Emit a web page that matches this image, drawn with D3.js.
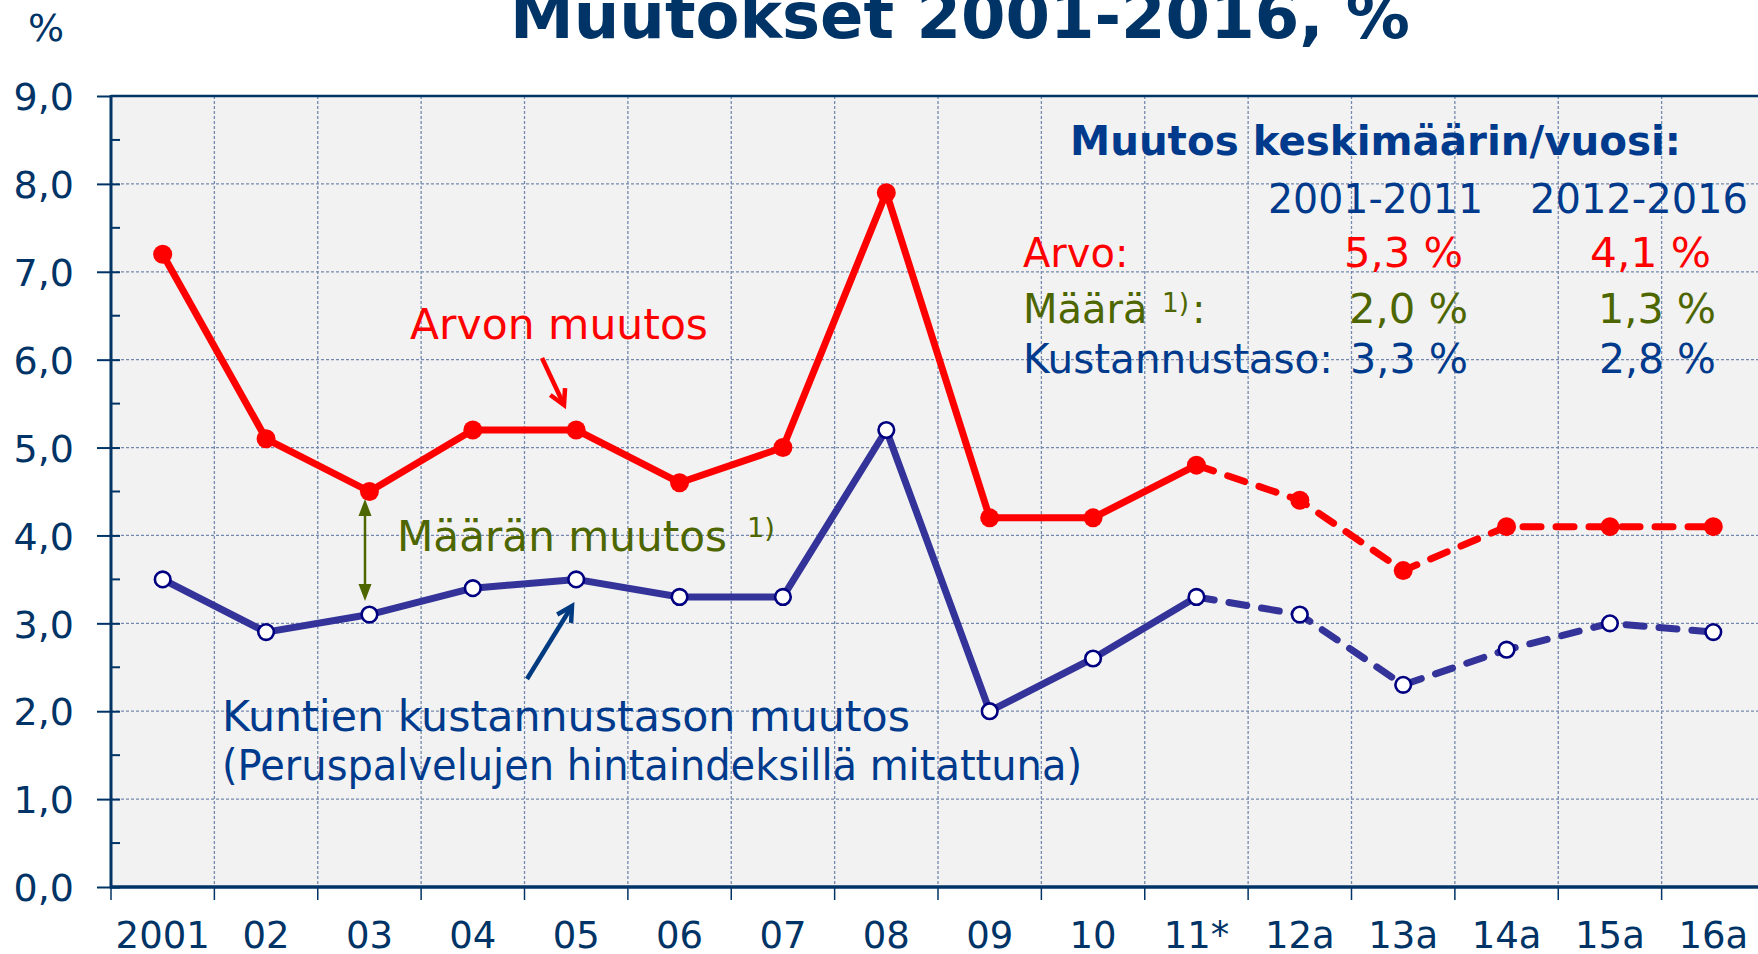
<!DOCTYPE html>
<html><head><meta charset="utf-8">
<script src="https://cdn.jsdelivr.net/npm/d3@7"></script>
<style>body{margin:0;background:#fff}svg{display:block}text{font-family:"DejaVu Sans",Verdana,sans-serif}</style>
</head><body>
<svg id="c" width="1758" height="954"></svg>
<script>
// ---- data ----
const categories = ["2001","02","03","04","05","06","07","08","09","10","11*","12a","13a","14a","15a","16a"];
const arvoValues = [7.2,5.1,4.5,5.2,5.2,4.6,5.0,7.9,4.2,4.2,4.8,4.4,3.6,4.1,4.1,4.1];
const kustannusValues = [3.5,2.9,3.1,3.4,3.5,3.3,3.3,5.2,2.0,2.6,3.3,3.1,2.3,2.7,3.0,2.9];
const solidUntil = "11*"; // actual data up to 2011, estimates afterwards
const yTicks = [0,1,2,3,4,5,6,7,8,9];
const periodLabels = ["2001-2011","2012-2016"];
const tableRows = ["Arvo:","Määrä","Kustannustaso:"];
const arvoAvg = ["5,3 %","4,1 %"];
const maaraAvg = ["2,0 %","1,3 %"];
const kustAvg = ["3,3 %","2,8 %"];

const NAVY = "#003366", BLUE_TXT = "#003a8c", RED = "#ff0000", GREEN = "#4e6600",
      LINE_BLUE = "#333399", MARK_BLUE = "#000080";

const svg = d3.select("#c");
const L = 111, T = 96, B = 887;
const x = d3.scaleBand().domain(categories).range([L, 1765]).padding(0);
const bw = x.bandwidth();
const cx = c => x(c) + bw/2;
const y = d3.scaleLinear().domain([0,9]).range([B, T]);

// plot background
svg.append("rect").attr("x", L).attr("y", T).attr("width", 1758 - L).attr("height", B - T).attr("fill", "#f2f2f2");

// grid
const grid = svg.append("g").attr("stroke", "#7489ad").attr("stroke-width", 1.3).attr("stroke-dasharray", "3,2");
grid.selectAll("line.h").data(yTicks.filter(v => v > 0 && v < 9)).join("line")
  .attr("x1", L).attr("x2", 1758).attr("y1", d => y(d)).attr("y2", d => y(d));
grid.selectAll("line.v").data(categories.slice(1)).join("line")
  .attr("x1", d => x(d)).attr("x2", d => x(d)).attr("y1", T).attr("y2", B);

// top frame
svg.append("line").attr("x1", L).attr("x2", 1758).attr("y1", T).attr("y2", T).attr("stroke", NAVY).attr("stroke-width", 2.5);

// y axis
const yAxis = svg.append("g").attr("transform", `translate(${L},0)`)
  .call(d3.axisLeft(y).tickValues(yTicks).tickSize(14).tickFormat(d => d3.format(".1f")(d).replace(".", ",")));
yAxis.select(".domain").remove();
yAxis.selectAll(".tick line").attr("stroke", NAVY).attr("stroke-width", 2).attr("x2", -14);
yAxis.selectAll(".tick").filter(d => d < 9).append("line").attr("x1", 0).attr("x2", 9).attr("stroke", NAVY).attr("stroke-width", 2);
yAxis.selectAll(".tick text").attr("fill", NAVY).attr("font-size", 38).attr("x", -37).attr("dy", "0.36em")
  .style("font-family", '"DejaVu Sans",Verdana,sans-serif');
// minor ticks
svg.append("g").selectAll("line").data(d3.range(0.5, 9, 1)).join("line")
  .attr("x1", L).attr("x2", L + 9).attr("y1", d => y(d)).attr("y2", d => y(d)).attr("stroke", NAVY).attr("stroke-width", 2);

// x axis ticks at band boundaries
svg.append("g").selectAll("line").data(categories).join("line")
  .attr("x1", d => x(d)).attr("x2", d => x(d)).attr("y1", B).attr("y2", B + 13).attr("stroke", NAVY).attr("stroke-width", 1.5);
svg.append("g").selectAll("text").data(categories).join("text")
  .attr("x", d => cx(d)).attr("y", 948).attr("text-anchor", "middle").attr("font-size", 37).attr("fill", NAVY).text(d => d);

// axis lines
svg.append("line").attr("x1", L).attr("x2", L).attr("y1", T - 1).attr("y2", B + 1.5).attr("stroke", NAVY).attr("stroke-width", 3);
svg.append("line").attr("x1", L).attr("x2", 1758).attr("y1", B).attr("y2", B).attr("stroke", NAVY).attr("stroke-width", 3.5);

// unit label and title
svg.append("text").attr("x", 28).attr("y", 41).attr("font-size", 38).attr("fill", NAVY).text("%");
svg.append("text").attr("x", 960).attr("y", 38).attr("text-anchor", "middle").attr("font-size", 64)
  .attr("font-weight", "bold").attr("fill", NAVY).text("Muutokset 2001-2016, %");

// series
const splitIdx = categories.indexOf(solidUntil);
function drawSeries(vals, color, width) {
  const pts = categories.map((c, i) => [cx(c), y(vals[i])]);
  const line = d3.line();
  svg.append("path").attr("d", line(pts.slice(0, splitIdx + 1))).attr("fill", "none")
    .attr("stroke", color).attr("stroke-width", width).attr("stroke-linejoin", "round");
  svg.append("path").attr("d", line(pts.slice(splitIdx))).attr("fill", "none")
    .attr("stroke", color).attr("stroke-width", width).attr("stroke-dasharray", "18,15").attr("stroke-linecap", "round");
  return pts;
}
const redPts = drawSeries(arvoValues, RED, 7);
const bluePts = drawSeries(kustannusValues, LINE_BLUE, 7);
svg.append("g").selectAll("circle").data(redPts).join("circle")
  .attr("cx", d => d[0]).attr("cy", d => d[1]).attr("r", 9.5).attr("fill", RED);
svg.append("g").selectAll("circle").data(bluePts).join("circle")
  .attr("cx", d => d[0]).attr("cy", d => d[1]).attr("r", 7.8).attr("fill", "#fff").attr("stroke", MARK_BLUE).attr("stroke-width", 2.6);

// annotations
function openArrow(x1, y1, x2, y2, color, w) {
  const a = Math.atan2(y2 - y1, x2 - x1), len = 17, sp = 0.5;
  svg.append("line").attr("x1", x1).attr("y1", y1).attr("x2", x2).attr("y2", y2).attr("stroke", color).attr("stroke-width", w);
  svg.append("path").attr("d", `M${x2 - len*Math.cos(a - sp)},${y2 - len*Math.sin(a - sp)}L${x2},${y2}L${x2 - len*Math.cos(a + sp)},${y2 - len*Math.sin(a + sp)}`)
    .attr("fill", "none").attr("stroke", color).attr("stroke-width", w).attr("stroke-linejoin", "miter");
}
function label(txt, x0, y0, size, color, len, extra) {
  const t = svg.append("text").attr("x", x0).attr("y", y0).attr("font-size", size).attr("fill", color).text(txt);
  if (len) t.attr("textLength", len).attr("lengthAdjust", "spacingAndGlyphs");
  if (extra) t.attr("font-weight", extra);
  return t;
}
label("Arvon muutos", 410, 339, 42, RED, 298);
openArrow(542, 358, 564, 405, RED, 4.5);

// green double arrow
svg.append("line").attr("x1", 365).attr("x2", 365).attr("y1", 510).attr("y2", 590).attr("stroke", GREEN).attr("stroke-width", 2.5);
svg.append("path").attr("d", "M365,499L358.5,516L371.5,516Z M365,601L358.5,584L371.5,584Z").attr("fill", GREEN);
label("Määrän muutos", 397, 551, 42, GREEN, 330);
label("1)", 747, 537, 27, GREEN, 28);

openArrow(527, 679, 572, 606, "#003a80", 4.5);
label("Kuntien kustannustason muutos", 222, 731, 42, BLUE_TXT, 688);
label("(Peruspalvelujen hintaindeksillä mitattuna)", 222, 780, 42, BLUE_TXT, 860);

// table
const tf = 40;
label("Muutos keskimäärin/vuosi:", 1070, 155, tf, BLUE_TXT, 611, "bold");
periodLabels.forEach((d, i) => label(d, [1268, 1530][i], 213, tf, BLUE_TXT, [215, 218][i]));
label(tableRows[0], 1023, 267, tf, RED);
arvoAvg.forEach((d, i) => label(d, [1344, 1590][i], 267, tf, RED, [119, 121][i]));
label(tableRows[1], 1023, 323, tf, GREEN);
label("1)", 1162, 312, 27, GREEN, 27);
label(":", 1192, 323, tf, GREEN);
maaraAvg.forEach((d, i) => label(d, [1349, 1598][i], 323, tf, GREEN, [119, 118][i]));
label(tableRows[2], 1023, 373, tf, BLUE_TXT, 310);
kustAvg.forEach((d, i) => label(d, [1350, 1599][i], 373, tf, BLUE_TXT, [118, 117][i]));
</script>
</body></html>
